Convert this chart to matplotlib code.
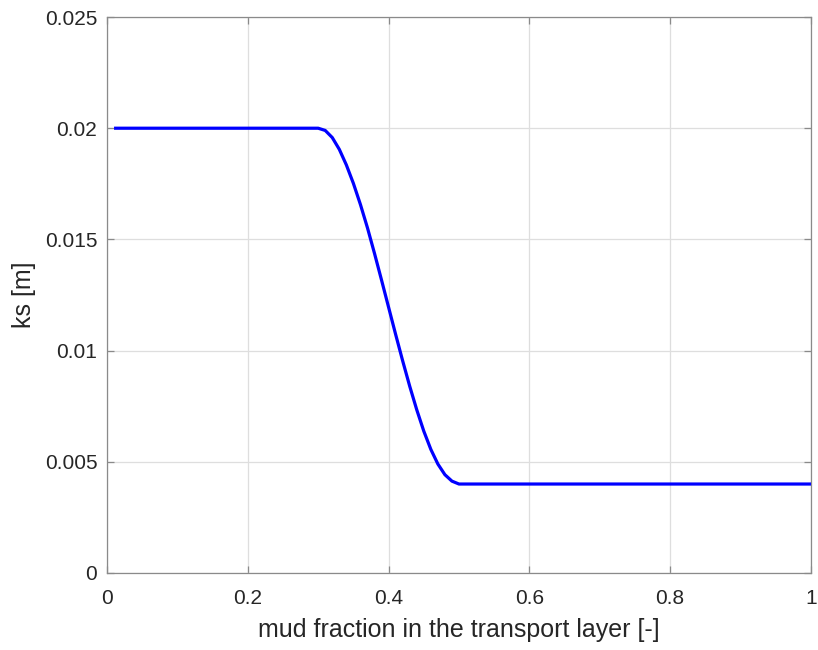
import matplotlib
matplotlib.use("Agg")
import matplotlib.pyplot as plt

# Bed roughness ks as a function of mud fraction in the transport layer
mud_fraction = [0.01, 0.30, 0.31, 0.32, 0.33, 0.34, 0.35, 0.36, 0.37, 0.38, 0.39,
                0.40, 0.41, 0.42, 0.43, 0.44, 0.45, 0.46, 0.47, 0.48, 0.49, 0.50, 1.00]
ks_values = [0.02000, 0.02000, 0.01990, 0.01958, 0.01905, 0.01835, 0.01752, 0.01657,
             0.01552, 0.01437, 0.01317, 0.01195, 0.01073, 0.00954, 0.00840, 0.00734,
             0.00638, 0.00556, 0.00490, 0.00442, 0.00413, 0.00400, 0.00400]

x_ticks = [0, 0.2, 0.4, 0.6, 0.8, 1]
x_tick_labels = ["0", "0.2", "0.4", "0.6", "0.8", "1"]
y_ticks = [0, 0.005, 0.01, 0.015, 0.02, 0.025]
y_tick_labels = ["0", "0.005", "0.01", "0.015", "0.02", "0.025"]

plt.rcParams["font.family"] = ["Liberation Sans", "DejaVu Sans"]
text_color = "#262626"
axis_color = "#8a8a8a"

fig = plt.figure(figsize=(8.18, 6.5), dpi=100)
ax = fig.add_axes([0.1308, 0.1185, 0.9914 - 0.1308, 0.9738 - 0.1185])

ax.plot(mud_fraction, ks_values, color="#0000ff", linewidth=2.3,
        solid_joinstyle="round", solid_capstyle="butt", zorder=3)

ax.set_xlim(0, 1)
ax.set_ylim(0, 0.025)
ax.set_xticks(x_ticks)
ax.set_xticklabels(x_tick_labels)
ax.set_yticks(y_ticks)
ax.set_yticklabels(y_tick_labels)

ax.grid(True, color="#dedede", linewidth=0.9, zorder=0)
ax.set_axisbelow(True)

for side in ["left", "right", "top", "bottom"]:
    ax.spines[side].set_color(axis_color)
    ax.spines[side].set_linewidth(0.9)

ax.tick_params(axis="both", direction="in", length=5, width=0.9,
               color=axis_color, labelcolor=text_color, labelsize=15,
               top=True, right=True)
ax.tick_params(axis="x", pad=11.5)
ax.tick_params(axis="y", pad=7)

ax.set_xlabel("mud fraction in the transport layer [-]", fontsize=18,
              color=text_color, labelpad=7)
ax.set_ylabel("ks [m]", fontsize=18, color=text_color, labelpad=6)

fig.savefig("out.png", dpi=100)
